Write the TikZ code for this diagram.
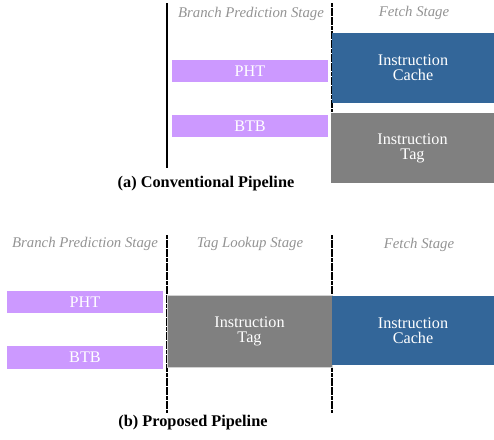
\documentclass[tikz,border=0pt]{standalone}
\usepackage{fontspec}
\setmainfont{Liberation Serif}
\newfontfamily\timesfont{Liberation Serif}
\definecolor{bpred}{HTML}{CC99FF}
\definecolor{icache}{HTML}{336699}
\definecolor{itag}{HTML}{808080}
\begin{document}
\begin{tikzpicture} [x=1pt, y=-1pt,
  stagelabel/.style={text=gray!85, font=\timesfont\fontsize{14.8}{15}\selectfont\itshape, inner sep=0},
  unit/.style={inner sep=0, text=white, align=center, font=\timesfont\fontsize{16.2}{15}\selectfont},
  bpbox/.style={unit, fill=bpred, minimum width=156pt, minimum height=22pt},
  bigbox/.style={unit, minimum width=162pt, minimum height=70pt},
  stageline/.style={line width=1.3pt, dash pattern=on 4pt off 0.6pt},
  caption/.style={font=\timesfont\fontsize{16.3}{17}\selectfont\bfseries, inner sep=0}]
\useasboundingbox (0,0) rectangle (494,439);

% (a) conventional
\coordinate (a1t) at (167,3);   \coordinate (a1b) at (167,168);
\coordinate (a2t) at (332,3);   \coordinate (a2b) at (332,112);
\draw[line width=1.3pt] (a1t) -- (a1b);
\draw[stageline] (a2t) -- (a2b);

\node[stagelabel] (abp) at (251,14) {Branch Prediction Stage};
\node[stagelabel] (afe) at (414,13) {Fetch Stage};

\node[bpbox] (apht) at (250,71) {PHT};
\node[bpbox] (abtb) at (250,126) {BTB};
\node[bigbox, fill=icache] (acache) at (413,68) {Instruction\\Cache};
\node[bigbox, fill=itag, minimum width=163pt] (atag) at (412.5,148) {Instruction\\Tag};

\node[caption] (capa) at (206,184) {(a) Conventional Pipeline};

% (b) proposed
\coordinate (b1t) at (167,235); \coordinate (b1b) at (167,413);
\coordinate (b2t) at (332,235); \coordinate (b2b) at (332,413);
\draw[stageline] (b1t) -- (b1b);
\draw[stageline] (b2t) -- (b2b);

\node[stagelabel] (bbp) at (85,244) {Branch Prediction Stage};
\node[stagelabel] (btl) at (250,244) {Tag Lookup Stage};
\node[stagelabel] (bfe) at (419,245) {Fetch Stage};

\node[bpbox] (bpht) at (85,302) {PHT};
\node[bpbox, minimum height=23pt] (bbtb) at (85,357.5) {BTB};
\node[bigbox, fill=itag, draw=gray!35, line width=0.8pt, minimum width=165pt, minimum height=72pt] (btag) at (249.5,331) {Instruction\\Tag};
\node[bigbox, fill=icache, minimum height=69pt] (bcache) at (413,330.5) {Instruction\\Cache};

\node[caption] (capb) at (193,423) {(b) Proposed Pipeline};
\end{tikzpicture}
\end{document}
